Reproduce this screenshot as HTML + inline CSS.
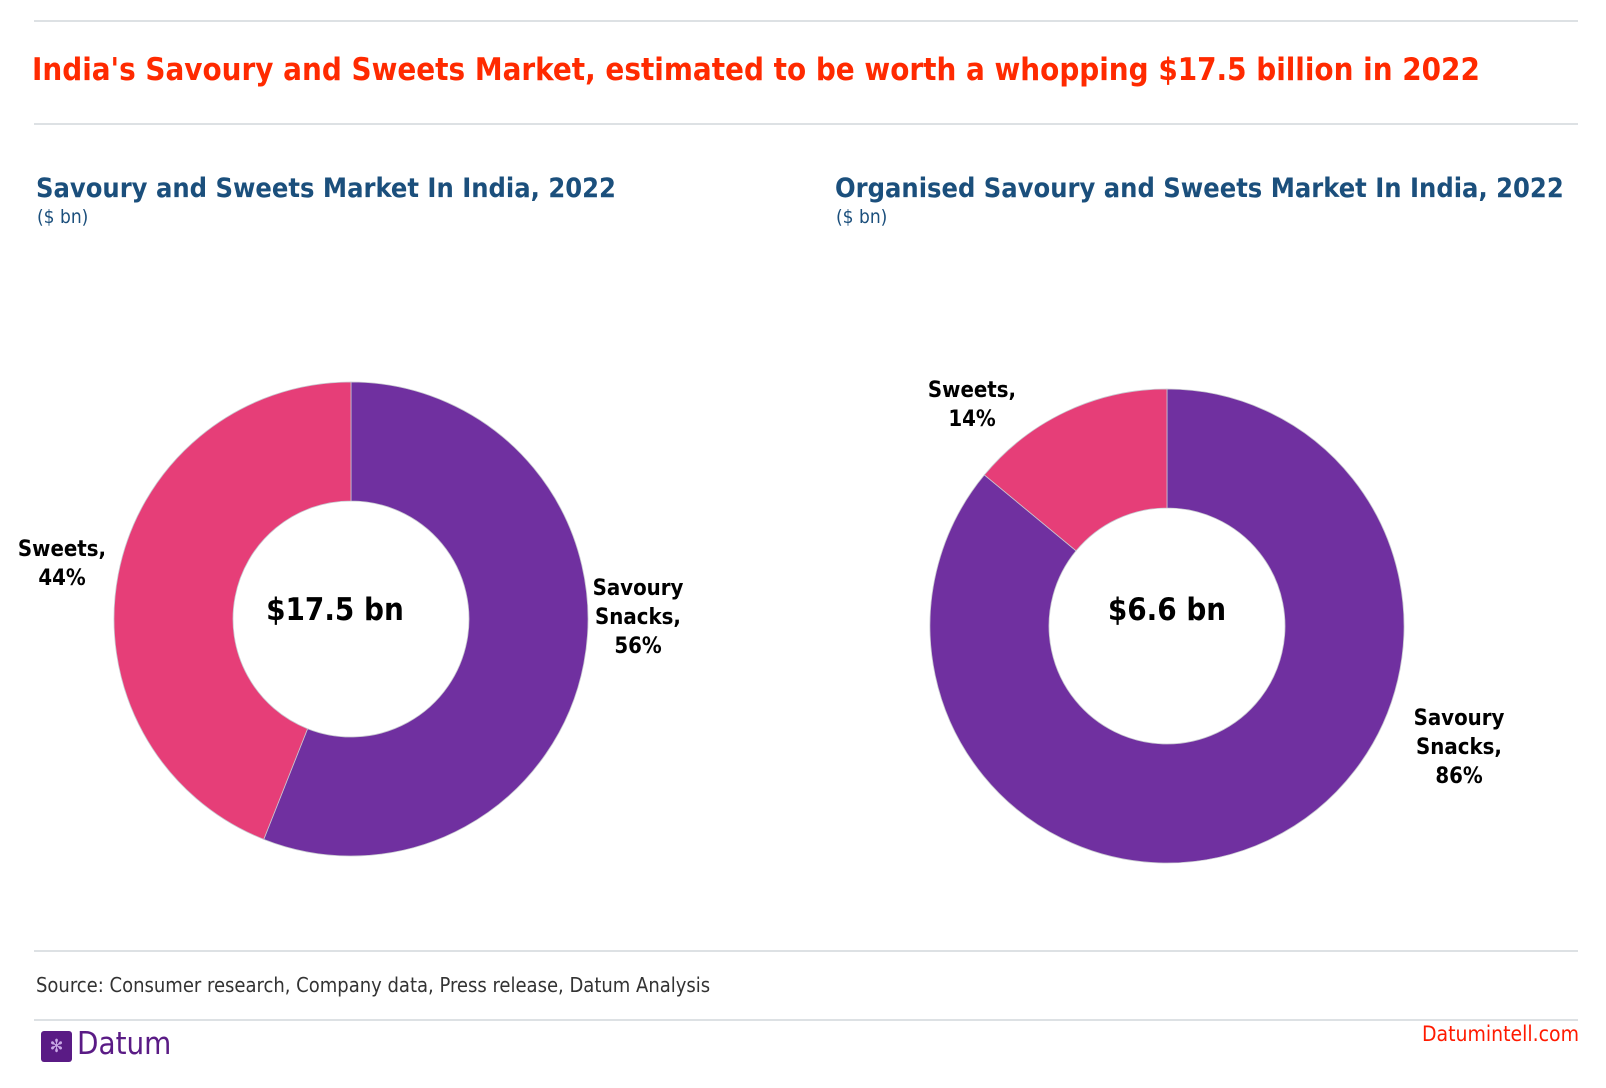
<!DOCTYPE html>
<html><head><meta charset="utf-8"><style>
body{margin:0;width:1606px;height:1088px;background:#fff;font-family:"DejaVu Sans Condensed","DejaVu Sans","Liberation Sans",sans-serif;overflow:hidden;position:relative}
.a{position:absolute;white-space:nowrap}
.hr{position:absolute;left:34px;width:1552px;height:2px;background:#dde1e4}
</style></head><body>
<div class="hr" style="top:20px;width:1544px"></div>
<div class="a" style="left:32px;top:52px;font-size:31px;font-weight:bold;color:#ff2a00">India's Savoury and Sweets Market, estimated to be worth a whopping $17.5 billion in 2022</div>
<div class="hr" style="top:123px;width:1544px"></div>
<div class="a" style="left:36px;top:173px;font-size:27px;font-weight:bold;color:#1b4f7c">Savoury and Sweets Market In India, 2022</div>
<div class="a" style="left:37px;top:206px;font-size:19px;color:#1b4f7c">($ bn)</div>
<div class="a" style="left:835px;top:173px;font-size:27px;font-weight:bold;color:#1b4f7c">Organised Savoury and Sweets Market In India, 2022</div>
<div class="a" style="left:836px;top:206px;font-size:19px;color:#1b4f7c">($ bn)</div>
<svg id="s" width="1606" height="1088" style="position:absolute;left:0;top:0"></svg>
<div class="hr" style="top:950px;width:1544px"></div>
<div class="a" style="left:36px;top:973px;font-size:20px;color:#333">Source: Consumer research, Company data, Press release, Datum Analysis</div>
<div class="hr" style="top:1019px;width:1544px"></div>
<div class="a" style="left:41px;top:1031px;width:31px;height:31px;background:#5a1b85;border-radius:3px;color:#c9a9e6;font-size:18px;text-align:center;line-height:31px">✻</div>
<div class="a" style="left:77px;top:1026px;font-size:31px;color:#5a1b85">Datum</div>
<div class="a" style="right:27px;top:1022px;font-size:21px;color:#ff1a00">Datumintell.com</div>
<script>
const categories=["Savoury Snacks","Sweets"];
const chart1Values=[56,44];
const chart2Values=[86,14];
const centerLabels=["$17.5 bn","$6.6 bn"];
const colors=["#7030a0","#e63e78"];
const svg=document.getElementById('s');const NS='http://www.w3.org/2000/svg';
function donut(cx,cy,vals,center,nm,labels,tx){
 const R=237,r=118,tot=vals.reduce((a,b)=>a+b,0);let a0=0;
 vals.forEach((v,i)=>{const a1=a0+v/tot*2*Math.PI;
  const p=(a,rr)=>[cx+rr*Math.sin(a),cy-rr*Math.cos(a)];
  const [x1,y1]=p(a0,R),[x2,y2]=p(a1,R),[x3,y3]=p(a1,r),[x4,y4]=p(a0,r);const lg=(a1-a0)>Math.PI?1:0;
  const el=document.createElementNS(NS,'path');
  el.setAttribute('d',`M${x1},${y1}A${R},${R} 0 ${lg} 1 ${x2},${y2}L${x3},${y3}A${r},${r} 0 ${lg} 0 ${x4},${y4}Z`);
  el.setAttribute('fill',colors[i]);el.setAttribute('stroke','#c8c8d0');el.setAttribute('stroke-width','0.8');
  
  
  svg.appendChild(el);a0=a1;});
 const t=document.createElementNS(NS,'text');t.setAttribute('x',tx);t.setAttribute('y',620);t.setAttribute('text-anchor','middle');t.setAttribute('font-size','31');t.setAttribute('font-weight','bold');t.textContent=center;
 
 
 svg.appendChild(t);
 labels.forEach(L=>{L.lines.forEach((s,k)=>{const e=document.createElementNS(NS,'text');e.setAttribute('x',L.x);e.setAttribute('y',L.y+k*29);e.setAttribute('text-anchor','middle');e.setAttribute('font-size','22');e.setAttribute('font-weight','bold');e.textContent=s;
  
  
  svg.appendChild(e);});});
}
donut(351,619,chart1Values,centerLabels[0],'chart1',[
 {n:'savoury',x:638,y:595,lines:["Savoury","Snacks,",chart1Values[0]+"%"]},
 {n:'sweets',x:62,y:556,lines:["Sweets,",chart1Values[1]+"%"]}],335);
donut(1167,626,chart2Values,centerLabels[1],'chart2',[
 {n:'savoury',x:1459,y:725,lines:["Savoury","Snacks,",chart2Values[0]+"%"]},
 {n:'sweets',x:972,y:397,lines:["Sweets,",chart2Values[1]+"%"]}],1167);
</script>
</body></html>
